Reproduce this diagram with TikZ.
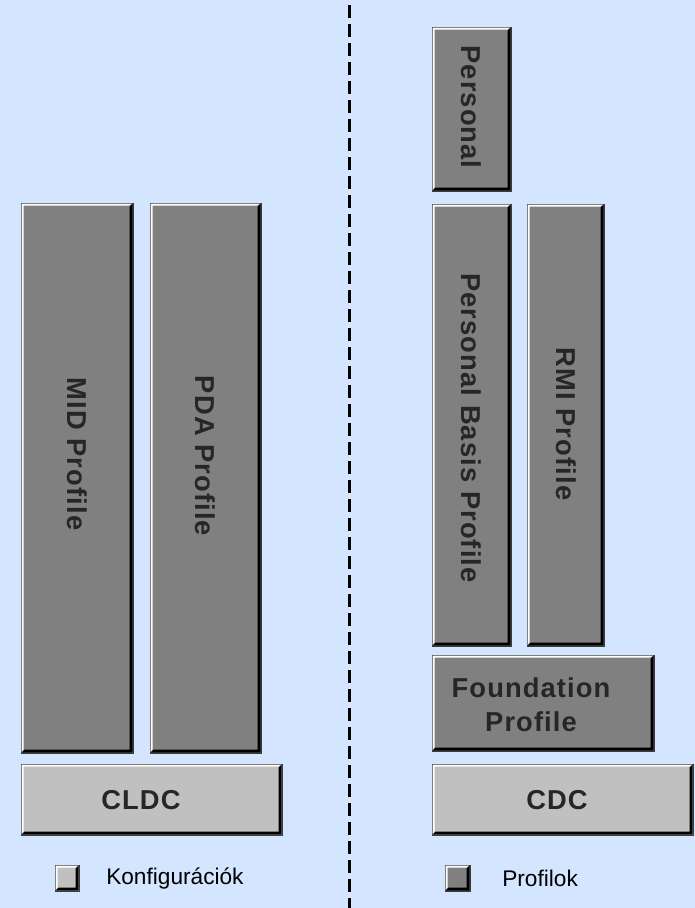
\documentclass[tikz,border=0pt]{standalone}
\usepackage{fontspec}
\setmainfont{Liberation Sans}
\newfontfamily\boxfont[LetterSpace=4]{Liberation Sans}
\usetikzlibrary{calc}
\definecolor{bgblue}{RGB}{212,230,255}
\definecolor{profgray}{RGB}{128,128,128}
\definecolor{confgray}{RGB}{192,192,192}
\definecolor{edgegray}{RGB}{60,60,60}
\newcommand\bevel[1]{%
  \fill[white] ($(#1.north west)+(1,1)$) -- ($(#1.north east)+(-1,1)$) -- ($(#1.north east)+(-4,3)$) -- ($(#1.north west)+(3,3)$) -- ($(#1.south west)+(3,-4)$) -- ($(#1.south west)+(1,-1)$) -- cycle;
  \fill[black] ($(#1.north east)+(-1,1)$) -- ($(#1.south east)+(-1,-1)$) -- ($(#1.south west)+(1,-1)$) -- ($(#1.south west)+(4,-4)$) -- ($(#1.south east)+(-4,-4)$) -- ($(#1.north east)+(-4,4)$) -- cycle;}
\newcommand\pbox[6]{%
  \node[bevbox, fill=#6, minimum width={(#4-#2)*0.75pt}, minimum height={(#5-#3)*0.75pt}] (#1) at ({(#2+#4)/2},{(#3+#5)/2}) {};
  \bevel{#1}}
\tikzset{
  bevbox/.style={draw=edgegray, line width=0.75pt, rectangle, inner sep=0pt},
  boxlabel/.style={font=\boxfont\bfseries\fontsize{20.5pt}{25.5pt}\selectfont, text=black!85, inner sep=0pt, align=center},
  vlabel/.style={boxlabel, rotate=-90},
  legendtext/.style={font=\fontsize{17pt}{20pt}\selectfont, text=black, inner sep=0pt, anchor=west},
  divider/.style={line width=2.25pt, dash pattern=on 9.75pt off 4.5pt, black}
}
\begin{document}
\begin{tikzpicture}[x=0.75pt,y=-0.75pt]
\useasboundingbox (0,0) rectangle (695,908);
\fill[bgblue] (0,0) rectangle (695,908);
% divider
\coordinate (dtop) at (349,5);
\coordinate (dbot) at (349,908);
\draw[divider] (dtop) -- (dbot);
% left side
\pbox{mid}{21}{203}{133}{753}{profgray}
\pbox{pda}{150}{203}{261}{753}{profgray}
\pbox{cldc}{21}{764}{282}{835}{confgray}
\node[vlabel] (midt) at (77,454) {MID Profile};
\node[vlabel] (pdat) at (205,456) {PDA Profile};
\node[boxlabel] (cldct) at (141,800) {CLDC};
% right side
\pbox{pers}{432}{27}{511}{191}{profgray}
\pbox{pbp}{432}{204}{511}{646}{profgray}
\pbox{rmi}{527}{204}{604}{646}{profgray}
\pbox{found}{432}{655}{654}{751}{profgray}
\pbox{cdc}{432}{764}{693}{835}{confgray}
\node[vlabel] (perst) at (471,107) {Personal};
\node[vlabel] (pbpt) at (471,428) {Personal Basis Profile};
\node[vlabel] (rmit) at (566,424) {RMI Profile};
\node[boxlabel] (foundt) at (531,705) {Foundation\\Profile};
\node[boxlabel] (cdct) at (557,800) {CDC};
% legend
\pbox{legconf}{55}{865}{79}{891}{confgray}
\node[legendtext] (legconft) at (106,878) {Konfigurációk};
\pbox{legprof}{445}{865}{470}{891}{profgray}
\node[legendtext] (legproft) at (502,878) {Profilok};
\end{tikzpicture}
\end{document}
